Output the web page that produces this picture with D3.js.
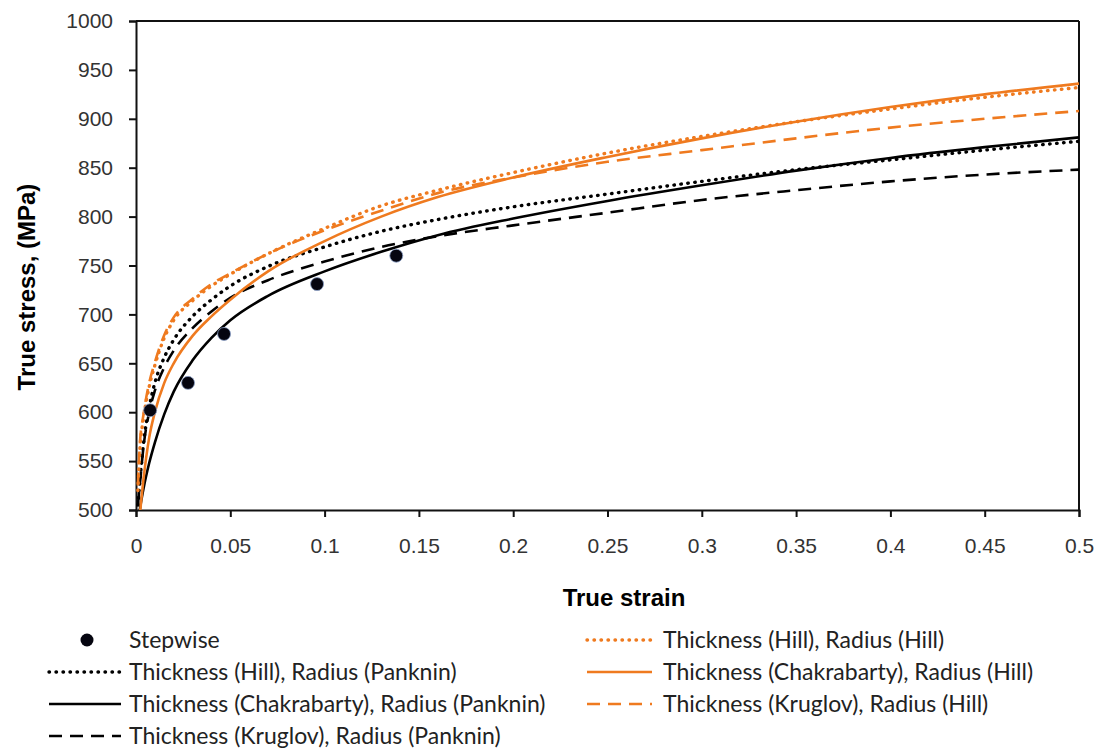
<!DOCTYPE html>
<html><head><meta charset="utf-8">
<script src="https://cdn.jsdelivr.net/npm/d3@7"></script>
<style>
html,body{margin:0;padding:0;background:#fff;}
svg{display:block;}
</style></head>
<body>
<svg id="chart" width="1097" height="752"></svg>
<script>
// ---------- data ----------
const strain = [0.001,0.002,0.004,0.007,0.01,0.015,0.02,0.03,0.04,0.05,0.07,0.1,0.13,0.16,0.2,0.25,0.3,0.35,0.4,0.45,0.5];
const hillPanknin    = [505,528,568,605,630,656,674,698,715,729,749,769,785,797,810,823,836,848,858,868,877];
const chakPanknin    = [485,500,522,548,569,598,621,653,676,694,719,744,764,781,798,816,832,847,860,871,881];
const kruglovPanknin = [505,525,565,600,622,646,663,686,703,717,735,754,769,780,791,804,817,827,836,843,848];
const hillHill       = [520,560,594,626,648,676,694,714,729,741,762,788,811,827,845,865,882,897,910,922,932];
const chakHill       = [478,495,532,574,600,630,650,678,698,715,744,775,800,820,840,861,880,897,912,925,936];
const kruglovHill    = [525,566,598,630,651,679,697,716,731,742,762,786,806,824,840,856,868,880,891,900,908];
const stepStrain = [0.0075,0.0276,0.0467,0.096,0.138];
const stepStress = [602,630,680,731,760];
const xTicks = [0,0.05,0.1,0.15,0.2,0.25,0.3,0.35,0.4,0.45,0.5];
const xTickLabels = ["0","0.05","0.1","0.15","0.2","0.25","0.3","0.35","0.4","0.45","0.5"];
const yTicks = [500,550,600,650,700,750,800,850,900,950,1000];
const yTickLabels = ["500","550","600","650","700","750","800","850","900","950","1000"];
const seriesNames = [
  "Thickness (Hill), Radius (Panknin)",
  "Thickness (Chakrabarty), Radius (Panknin)",
  "Thickness (Kruglov), Radius (Panknin)",
  "Thickness (Hill), Radius (Hill)",
  "Thickness (Chakrabarty), Radius (Hill)",
  "Thickness (Kruglov), Radius (Hill)"
];
const stepName = "Stepwise";
const xTitle = "True strain";
const yTitle = "True stress, (MPa)";

// ---------- layout ----------
const ORANGE = "#EF7A1F", BLACK = "#000";
const L = 136, R = 1079, T = 21, B = 510;
const svg = d3.select("#chart");
const x = d3.scaleLinear().domain([0,0.5]).range([L,R]);
const y = d3.scaleLinear().domain([500,1000]).range([B,T]);

const styles = {
  dotted: {dash:"0.5,6.5", cap:"round", w:3.4},
  solid:  {dash:null, cap:"butt", w:2.6},
  dashed: {dash:"13,8", cap:"butt", w:2.6}
};
const series = [
  {name:seriesNames[0], vals:hillPanknin, color:BLACK, st:"dotted"},
  {name:seriesNames[1], vals:chakPanknin, color:BLACK, st:"solid"},
  {name:seriesNames[2], vals:kruglovPanknin, color:BLACK, st:"dashed"},
  {name:seriesNames[3], vals:hillHill, color:ORANGE, st:"dotted"},
  {name:seriesNames[4], vals:chakHill, color:ORANGE, st:"solid"},
  {name:seriesNames[5], vals:kruglovHill, color:ORANGE, st:"dashed"}
];

svg.append("defs").append("clipPath").attr("id","clip")
  .append("rect").attr("x",L).attr("y",T).attr("width",R-L).attr("height",B-T);

// axes
const xAxis = d3.axisBottom(x).tickValues(xTicks).tickFormat((d,i)=>xTickLabels[i]).tickSize(7).tickPadding(21);
const yAxis = d3.axisLeft(y).tickValues(yTicks).tickFormat((d,i)=>yTickLabels[i]).tickSize(7).tickPadding(16);
const gx = svg.append("g").attr("transform",`translate(0,${B})`).call(xAxis);
const gy = svg.append("g").attr("transform",`translate(${L},0)`).call(yAxis);
[gx,gy].forEach(g=>{
  g.select(".domain").attr("stroke","#111").attr("stroke-width",2);
  g.selectAll(".tick line").attr("stroke","#111").attr("stroke-width",2);
  g.selectAll(".tick text").attr("font-family","'Liberation Sans', Arial, sans-serif")
    .attr("font-size",21).attr("fill","#333");
});
// box top/right
svg.append("line").attr("x1",L).attr("x2",R).attr("y1",T).attr("y2",T).attr("stroke","#111").attr("stroke-width",2);
svg.append("line").attr("x1",R).attr("x2",R).attr("y1",T).attr("y2",B).attr("stroke","#111").attr("stroke-width",2);

// lines
const line = d3.line().x((d,i)=>x(strain[i])).y(d=>y(d)).curve(d3.curveMonotoneX);
const plot = svg.append("g").attr("clip-path","url(#clip)");
series.forEach(s=>{
  const st = styles[s.st];
  plot.append("path").attr("d",line(s.vals)).attr("fill","none")
    .attr("stroke",s.color).attr("stroke-width",st.w)
    .attr("stroke-linecap",st.cap)
    .attr("stroke-dasharray",st.dash);
});
// stepwise points
plot.selectAll("circle.step").data(stepStrain).enter().append("circle")
  .attr("class","step").attr("cx",d=>x(d)).attr("cy",(d,i)=>y(stepStress[i]))
  .attr("r",6.5).attr("fill","#050510").attr("stroke","#8aa0c8").attr("stroke-width",0.8);

// axis titles
svg.append("text").attr("x",624).attr("y",606).attr("text-anchor","middle")
  .attr("font-family","'Liberation Sans', Arial, sans-serif").attr("font-weight","bold")
  .attr("font-size",24).attr("fill","#000").text(xTitle);
svg.append("text").attr("transform","translate(35,287) rotate(-90)").attr("text-anchor","middle")
  .attr("font-family","'Liberation Sans', Arial, sans-serif").attr("font-weight","bold")
  .attr("font-size",24).attr("fill","#000").text(yTitle);

// legend
const lg = svg.append("g").attr("font-family","Lato, 'Open Sans', sans-serif").attr("font-size",23).attr("fill","#222");
const rows = [640,672,704,736];
function legendLine(x1,x2,yy,s){
  const st = styles[s.st];
  lg.append("line").attr("x1",x1).attr("x2",x2).attr("y1",yy).attr("y2",yy)
    .attr("stroke",s.color).attr("stroke-width",st.w).attr("stroke-linecap",st.cap)
    .attr("stroke-dasharray",st.dash);
}
lg.append("circle").attr("cx",87).attr("cy",rows[0]).attr("r",6.5).attr("fill","#050510");
lg.append("text").attr("x",129).attr("y",rows[0]).attr("dy","0.35em").text(stepName);
for(let i=0;i<3;i++){
  legendLine(49,121,rows[i+1],series[i]);
  lg.append("text").attr("x",129).attr("y",rows[i+1]).attr("dy","0.35em").text(series[i].name);
  legendLine(587,652,rows[i],series[i+3]);
  lg.append("text").attr("x",663).attr("y",rows[i]).attr("dy","0.35em").text(series[i+3].name);
}
</script>
</body></html>
